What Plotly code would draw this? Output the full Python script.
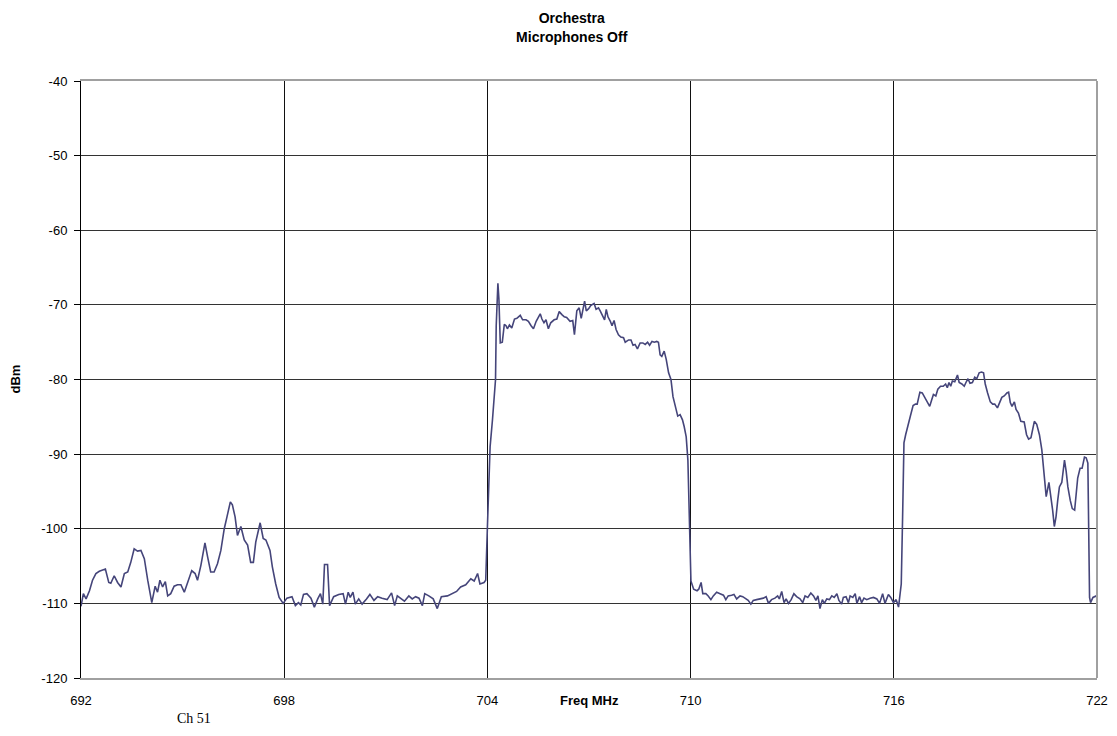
import plotly.graph_objects as go

# Frequency (MHz) and level (dBm)
freq_mhz = [
    692.00, 692.07, 692.15, 692.25, 692.34, 692.44, 692.54, 692.64, 692.72, 692.82,
    692.88, 692.98, 693.08, 693.18, 693.28, 693.38, 693.47, 693.57, 693.67, 693.77,
    693.87, 693.97, 694.09, 694.19, 694.26, 694.33, 694.41, 694.49, 694.56, 694.65,
    694.75, 694.85, 694.95, 695.05, 695.15, 695.27, 695.37, 695.44, 695.54, 695.66,
    695.74, 695.83, 695.93, 696.03, 696.13, 696.23, 696.31, 696.41, 696.47, 696.55,
    696.62, 696.72, 696.82, 696.92, 697.01, 697.09, 697.16, 697.29, 697.38, 697.46,
    697.58, 697.65, 697.75, 697.85, 697.97,
    698.08, 698.23, 698.33, 698.42, 698.49, 698.57, 698.67, 698.79, 698.89, 698.99,
    699.07, 699.14, 699.19, 699.28, 699.34, 699.46, 699.61, 699.74, 699.81, 699.89,
    699.95, 700.03, 700.10, 700.20, 700.30, 700.43, 700.53, 700.65, 700.76, 700.89,
    701.04, 701.17, 701.26, 701.34, 701.44, 701.55, 701.68, 701.78, 701.88, 701.98,
    702.08, 702.15, 702.27, 702.40, 702.52, 702.64, 702.82, 702.97, 703.09, 703.21,
    703.36, 703.51, 703.61, 703.71, 703.78, 703.90, 703.95,
    704.00, 704.08, 704.15, 704.21, 704.24, 704.26, 704.31, 704.34, 704.38, 704.44,
    704.50, 704.55, 704.59, 704.65, 704.72, 704.80, 704.87, 704.97, 705.04, 705.14,
    705.21, 705.29, 705.36, 705.44, 705.56, 705.61, 705.67, 705.73, 705.80, 705.87,
    705.97, 706.05, 706.12, 706.20, 706.27, 706.34, 706.44, 706.52, 706.57, 706.64,
    706.71, 706.77, 706.82, 706.87, 706.92, 706.99, 707.05, 707.15, 707.21, 707.28,
    707.33, 707.41, 707.46, 707.51, 707.56, 707.63, 707.68, 707.74, 707.80, 707.87,
    707.94, 708.02, 708.07, 708.17, 708.24, 708.30, 708.36, 708.43, 708.51, 708.59,
    708.66, 708.73, 708.79, 708.86, 708.93, 709.00, 709.05, 709.10, 709.15, 709.22,
    709.28, 709.35, 709.42, 709.48, 709.55, 709.62, 709.69, 709.76, 709.81, 709.87,
    709.92, 709.97, 710.01, 710.09, 710.19, 710.24, 710.31, 710.36,
    710.45, 710.52, 710.60, 710.67, 710.77, 710.87, 710.97, 711.04, 711.11, 711.21,
    711.28, 711.36, 711.46, 711.54, 711.63, 711.70, 711.78, 711.85, 711.95, 712.05,
    712.15, 712.23, 712.30, 712.39, 712.49, 712.57, 712.62, 712.69, 712.76, 712.82,
    712.89, 712.97, 713.05, 713.13, 713.23, 713.31, 713.38, 713.46, 713.55, 713.63,
    713.70, 713.76, 713.82, 713.89, 713.95, 714.02, 714.10, 714.17, 714.24, 714.32,
    714.38, 714.46, 714.51, 714.59, 714.66, 714.71, 714.79, 714.86, 714.91, 714.99,
    715.05, 715.12, 715.20, 715.30, 715.40, 715.50, 715.58, 715.67, 715.74, 715.84,
    715.91, 715.99, 716.07, 716.14,
    716.22, 716.26, 716.30, 716.35, 716.42, 716.49, 716.57, 716.64, 716.69, 716.77,
    716.84, 716.92, 716.99, 717.06, 717.12, 717.17, 717.24, 717.30, 717.38, 717.46,
    717.53, 717.58, 717.63, 717.68, 717.73, 717.80, 717.88, 717.93, 718.01, 718.08,
    718.13, 718.19, 718.25, 718.32, 718.39, 718.45, 718.52, 718.59, 718.65, 718.70,
    718.77, 718.85, 718.92, 718.98, 719.06, 719.13, 719.19, 719.26, 719.34, 719.39,
    719.44, 719.49, 719.56, 719.61, 719.68, 719.75, 719.85, 719.92, 719.98, 720.05,
    720.10, 720.15, 720.22, 720.30, 720.37, 720.43, 720.50, 720.58, 720.64, 720.69,
    720.74, 720.79, 720.84, 720.89, 720.96, 721.04, 721.09, 721.14, 721.21, 721.27,
    721.34, 721.39, 721.43, 721.50, 721.56, 721.63, 721.68, 721.73, 721.78, 721.81,
    721.88, 721.98, 722.00,
]

level_dbm = [
    -110.4, -108.7, -109.4, -108.3, -106.9, -106.0, -105.7, -105.5, -105.4, -107.2,
    -107.3, -106.3, -107.2, -107.8, -106.0, -105.8, -104.5, -102.7, -103.0, -102.9,
    -104.0, -106.9, -109.9, -107.7, -108.5, -106.9, -107.8, -107.1, -109.0, -108.7,
    -107.7, -107.5, -107.5, -108.5, -107.2, -105.6, -106.0, -106.9, -104.9, -101.9,
    -103.8, -105.8, -105.8, -104.7, -102.9, -100.0, -98.4, -96.4, -96.8, -98.4,
    -100.9, -99.7, -101.5, -102.2, -104.5, -104.5, -101.8, -99.2, -101.3, -101.5,
    -102.9, -105.1, -107.4, -109.2, -110.0,
    -109.3, -109.1, -110.3, -109.9, -110.2, -108.8, -108.7, -109.3, -110.5, -109.4,
    -108.7, -110.1, -104.8, -104.8, -110.3, -109.1, -108.8, -108.7, -110.1, -108.5,
    -109.2, -108.5, -110.1, -109.4, -110.1, -109.4, -108.8, -109.6, -109.1, -109.3,
    -109.5, -108.6, -110.3, -109.0, -109.3, -109.7, -109.0, -109.4, -109.1, -109.3,
    -110.3, -108.7, -109.0, -109.4, -110.7, -109.1, -109.0, -108.7, -108.4, -107.8,
    -107.5, -106.7, -107.0, -106.0, -107.4, -107.2, -106.9,
    -99.8, -89.0, -85.4, -81.8, -80.0, -72.8, -67.1, -69.2, -75.1, -75.0,
    -72.6, -72.8, -73.2, -72.7, -73.1, -71.9, -71.8, -71.4, -72.0, -72.0,
    -72.2, -72.8, -73.2, -72.2, -71.2, -71.9, -72.4, -72.0, -73.2, -72.4,
    -72.0, -71.9, -70.9, -71.3, -71.6, -71.7, -72.2, -72.1, -74.0, -70.8,
    -70.4, -71.8, -70.6, -69.5, -70.8, -70.5, -70.1, -69.8, -70.6, -70.4,
    -70.8, -71.5, -72.0, -70.6, -71.6, -72.2, -72.8, -72.1, -73.3, -74.0,
    -74.3, -74.4, -75.0, -74.7, -74.7, -75.4, -75.3, -75.9, -75.1, -75.1,
    -75.3, -75.0, -75.4, -74.9, -75.0, -74.9, -75.0, -76.7, -76.9, -76.2,
    -77.3, -79.1, -80.0, -82.3, -83.6, -84.9, -84.7, -85.4, -86.3, -87.7,
    -90.8, -99.8, -107.0, -108.1, -108.3, -108.1, -107.2, -108.7,
    -108.7, -109.0, -109.5, -109.0, -108.5, -108.7, -108.9, -109.5, -109.0, -108.9,
    -108.8, -109.4, -109.0, -109.1, -109.4, -109.6, -110.1, -109.6, -109.5, -109.4,
    -109.3, -109.1, -110.0, -109.5, -109.3, -109.0, -109.4, -108.4, -109.9, -109.4,
    -110.0, -109.5, -108.7, -109.1, -109.4, -109.9, -109.0, -109.2, -108.6, -109.0,
    -109.6, -109.0, -110.7, -109.5, -110.0, -109.4, -109.5, -109.0, -109.2, -108.7,
    -109.6, -110.1, -109.2, -109.1, -109.9, -109.0, -109.2, -108.7, -110.0, -109.1,
    -109.9, -109.3, -109.5, -109.3, -109.2, -109.4, -110.0, -108.7, -110.0, -108.8,
    -109.2, -109.9, -109.5, -110.5,
    -107.4, -98.4, -88.5, -87.4, -86.3, -84.9, -83.5, -83.3, -83.3, -81.7,
    -81.8, -82.4, -83.1, -83.6, -82.7, -82.0, -82.2, -81.3, -80.9, -80.9,
    -80.6, -81.1, -80.4, -80.9, -80.2, -80.3, -79.4, -80.4, -80.6, -80.9,
    -80.4, -79.9, -80.5, -80.4, -79.7, -79.9, -79.1, -79.0, -79.1, -80.6,
    -81.8, -83.0, -83.3, -83.3, -83.8, -83.1, -82.4, -82.2, -81.8, -81.7,
    -83.1, -83.6, -83.0, -84.0, -84.5, -85.6, -85.7, -87.4, -88.0, -87.8,
    -86.7, -85.6, -86.0, -87.4, -89.4, -92.6, -95.7, -93.8, -95.7, -97.5,
    -99.7, -98.4, -96.2, -94.4, -93.8, -90.8, -92.3, -94.4, -96.2, -97.3,
    -97.5, -95.5, -93.2, -91.9, -91.9, -90.4, -90.5, -91.2, -109.2, -109.9,
    -109.2, -109.0, -109.0,
]

x_ticks = [692, 698, 704, 710, 716, 722]
y_ticks = [-40, -50, -60, -70, -80, -90, -100, -110, -120]

title_text = "Orchestra<br>Microphones Off"
x_title = "Freq MHz"
y_title = "dBm"
note_text = "Ch 51"

FONT = "Liberation Sans, Arial, sans-serif"

fig = go.Figure()
fig.add_trace(go.Scatter(
    x=freq_mhz, y=level_dbm, mode="lines",
    line=dict(color="#45457a", width=1.6),
    showlegend=False, hoverinfo="x+y",
))

fig.update_layout(
    width=1101, height=720,
    paper_bgcolor="white", plot_bgcolor="white",
    margin=dict(l=73, r=12, t=73, b=50, autoexpand=False),
    title=dict(text="<b>" + title_text.replace("<br>", "</b><br><b>") + "</b>",
               x=0.512, xref="container", xanchor="center",
               y=0.9786, yref="container", yanchor="top",
               font=dict(family=FONT, size=14, color="black")),
    font=dict(family=FONT, size=13, color="black"),
)

fig.update_xaxes(
    range=[692, 722], tickmode="array", tickvals=x_ticks,
    ticktext=[str(v) for v in x_ticks],
    showgrid=True, gridcolor="#111111", gridwidth=1,
    showline=True, linecolor="#a0a0a0", linewidth=2, mirror=True,
    ticks="", ticklabelstandoff=9, zeroline=False,
    tickfont=dict(family=FONT, size=13, color="black"),
)
fig.update_yaxes(
    range=[-120, -40], tickmode="array", tickvals=y_ticks,
    ticktext=[str(v) for v in y_ticks],
    showgrid=True, gridcolor="#333333", gridwidth=1,
    showline=True, linecolor="black", linewidth=1, mirror=False,
    ticks="outside", ticklen=6, tickcolor="black", zeroline=False,
    ticklabelstandoff=4,
    tickfont=dict(family=FONT, size=13, color="black"),
)

# right border of plot area (gray, like the reference frame)
fig.add_shape(type="line", xref="paper", yref="paper", x0=1, x1=1, y0=0, y1=1,
              line=dict(color="#a0a0a0", width=2))

fig.add_annotation(text="<b>" + x_title + "</b>", xref="paper", yref="paper",
                   x=0.5, y=0, yshift=-22, showarrow=False, xanchor="center",
                   yanchor="middle", font=dict(family=FONT, size=13, color="black"))
fig.add_annotation(text="<b>" + y_title + "</b>", xref="paper", yref="paper",
                   x=0, xshift=-66, y=0.5, showarrow=False, textangle=-90,
                   xanchor="center", yanchor="middle",
                   font=dict(family=FONT, size=13, color="black"))
fig.add_annotation(text=note_text, xref="paper", yref="paper",
                   x=0.111, y=0, yshift=-40, showarrow=False, xanchor="center",
                   yanchor="middle",
                   font=dict(family="Liberation Serif, Times New Roman, serif",
                             size=14, color="black"))

fig.write_html("out.html")
